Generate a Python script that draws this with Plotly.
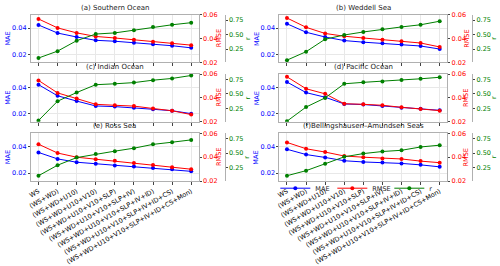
import plotly.graph_objects as go

categories = ["WS", "(WS+WD)", "(WS+WD+U10)", "(WS+WD+U10+V10)", "(WS+WD+U10+V10+SLP)",
              "(WS+WD+U10+V10+SLP+IV)", "(WS+WD+U10+V10+SLP+IV+ID)",
              "(WS+WD+U10+V10+SLP+IV+ID+CS)", "(WS+WD+U10+V10+SLP+IV+ID+CS+Mon)"]

titles = ["(a) Southern Ocean", "(b) Weddell Sea", "(c) Indian Ocean",
          "(d) Pacific Ocean", "(e) Ross Sea", "(f)Bellingshausen\u2013Amundsen Seas"]

mae_a = [0.0423, 0.0362, 0.0332, 0.0307, 0.0300, 0.0289, 0.0277, 0.0266, 0.0250]
rmse_a = [0.0565, 0.0490, 0.0448, 0.0418, 0.0405, 0.0390, 0.0373, 0.0360, 0.0345]
r_a = [0.095, 0.214, 0.394, 0.508, 0.528, 0.575, 0.631, 0.668, 0.704]

mae_b = [0.0432, 0.0368, 0.0332, 0.0305, 0.0293, 0.0284, 0.0275, 0.0264, 0.0241]
rmse_b = [0.0573, 0.0495, 0.0443, 0.0420, 0.0405, 0.0390, 0.0378, 0.0363, 0.0330]
r_b = [0.059, 0.204, 0.420, 0.492, 0.544, 0.590, 0.631, 0.668, 0.729]

mae_c = [0.0420, 0.0336, 0.0296, 0.0259, 0.0254, 0.0246, 0.0234, 0.0223, 0.0201]
rmse_c = [0.0547, 0.0442, 0.0394, 0.0346, 0.0338, 0.0331, 0.0311, 0.0292, 0.0260]
r_c = [0.040, 0.373, 0.522, 0.657, 0.673, 0.693, 0.735, 0.765, 0.816]

mae_d = [0.0440, 0.0360, 0.0325, 0.0274, 0.0270, 0.0259, 0.0246, 0.0237, 0.0226]
rmse_d = [0.0577, 0.0477, 0.0434, 0.0351, 0.0346, 0.0338, 0.0321, 0.0306, 0.0293]
r_d = [0.029, 0.272, 0.430, 0.673, 0.698, 0.713, 0.739, 0.759, 0.785]

mae_e = [0.0356, 0.0307, 0.0282, 0.0271, 0.0258, 0.0249, 0.0238, 0.0229, 0.0213]
rmse_e = [0.0509, 0.0435, 0.0400, 0.0382, 0.0370, 0.0352, 0.0334, 0.0316, 0.0299]
r_e = [0.111, 0.292, 0.423, 0.485, 0.534, 0.585, 0.651, 0.688, 0.728]

mae_f = [0.0380, 0.0340, 0.0318, 0.0293, 0.0284, 0.0280, 0.0273, 0.0262, 0.0247]
rmse_f = [0.0524, 0.0471, 0.0443, 0.0410, 0.0400, 0.0390, 0.0385, 0.0367, 0.0354]
r_f = [0.111, 0.198, 0.317, 0.436, 0.492, 0.528, 0.549, 0.606, 0.637]

panels = [(mae_a, rmse_a, r_a), (mae_b, rmse_b, r_b), (mae_c, rmse_c, r_c),
          (mae_d, rmse_d, r_d), (mae_e, rmse_e, r_e), (mae_f, rmse_f, r_f)]

W, H = 500, 266
FONT = "DejaVu Sans"
FS = 6.5
BLUE, RED, GREEN = "blue", "red", "green"
FRAME = "#b0b0b0"
GRID = "#e8e8e8"

col_px = [(28, 197), (278, 447)]
r_pos_px = [223, 472]
row_px = [(12, 65), (78, 131), (144, 197)]
# axis-title x positions (px): MAE, RMSE, r
title_x_px = [(5, 217, 246), (255, 466, 494)]

fig = go.Figure()
layout = {}
xs = list(range(len(categories)))


def yn(k):
    return "y" if k == 1 else f"y{k}"


for i, (mae, rmse, r) in enumerate(panels):
    row, col = divmod(i, 2)
    n = i + 1
    xa = "x" if n == 1 else f"x{n}"
    ya1, ya2, ya3 = 3 * i + 1, 3 * i + 2, 3 * i + 3
    show_leg = (i == 5)
    fig.add_trace(go.Scatter(x=xs, y=mae, mode="lines+markers", name="MAE",
                             line=dict(color=BLUE, width=1), marker=dict(size=4, color=BLUE),
                             xaxis=xa, yaxis=yn(ya1), showlegend=show_leg))
    fig.add_trace(go.Scatter(x=xs, y=rmse, mode="lines+markers", name="RMSE",
                             line=dict(color=RED, width=1), marker=dict(size=4, color=RED),
                             xaxis=xa, yaxis=yn(ya2), showlegend=show_leg))
    fig.add_trace(go.Scatter(x=xs, y=r, mode="lines+markers", name="r",
                             line=dict(color=GREEN, width=1), marker=dict(size=4, color=GREEN),
                             xaxis=xa, yaxis=yn(ya3), showlegend=show_leg))

    x0, x1 = col_px[col]
    t, b = row_px[row]
    xdom = [x0 / W, x1 / W]
    ydom = [1 - b / H, 1 - t / H]
    xkey = "xaxis" if n == 1 else f"xaxis{n}"
    layout[xkey] = dict(domain=xdom, anchor=yn(ya1), range=[-0.4, 8.4],
                        tickmode="array", tickvals=xs, ticktext=categories,
                        showticklabels=(row == 2), tickangle=-30,
                        ticks="outside", ticklen=3, tickcolor="#444",
                        showgrid=True, gridcolor=GRID, gridwidth=1,
                        showline=True, linecolor=FRAME, linewidth=1, mirror=True,
                        zeroline=False, tickfont=dict(family=FONT, size=FS, color="black"))
    k1 = "yaxis" if ya1 == 1 else f"yaxis{ya1}"
    layout[k1] = dict(domain=ydom, anchor=xa, range=[0.014, 0.050],
                      tickvals=[0.02, 0.04], ticktext=["0.02", "0.04"],
                      ticks="outside", ticklen=2, tickcolor="#444",
                      showgrid=True, gridcolor=GRID, zeroline=False,
                      showline=True, linecolor=FRAME, linewidth=1, mirror=True,
                      tickfont=dict(family=FONT, size=FS, color=BLUE))
    layout[f"yaxis{ya2}"] = dict(overlaying=yn(ya1), anchor=xa, side="right",
                                 range=[0.02, 0.06], tickvals=[0.02, 0.04, 0.06],
                                 ticktext=["0.02", "0.04", "0.06"],
                                 ticks="outside", ticklen=2, tickcolor="#444",
                                 showgrid=False, zeroline=False,
                                 tickfont=dict(family=FONT, size=FS, color=RED))
    layout[f"yaxis{ya3}"] = dict(overlaying=yn(ya1), anchor="free", side="right",
                                 position=r_pos_px[col] / W,
                                 range=[0.02, 0.84], tickvals=[0.25, 0.5, 0.75],
                                 ticktext=["0.25", "0.50", "0.75"],
                                 ticks="outside", ticklen=2, tickcolor="#444",
                                 showgrid=False, zeroline=False,
                                 showline=True, linecolor=FRAME, linewidth=1,
                                 tickfont=dict(family=FONT, size=FS, color=GREEN))

annotations = []
for i, title in enumerate(titles):
    row, col = divmod(i, 2)
    x0, x1 = col_px[col]
    t, b = row_px[row]
    annotations.append(dict(text=title, x=(x0 + x1) / 2 / W, y=1 - (t - 1) / H,
                            xref="paper", yref="paper", xanchor="center", yanchor="bottom",
                            showarrow=False, font=dict(family=FONT, size=FS + 0.5, color="#222")))
    yc = 1 - (t + b) / 2 / H
    for txt, xp, colr in zip(["MAE", "RMSE", "r"], title_x_px[col], [BLUE, RED, GREEN]):
        annotations.append(dict(text=txt, x=xp / W, y=yc, xref="paper", yref="paper",
                                xanchor="center", yanchor="middle", textangle=-90,
                                showarrow=False, font=dict(family=FONT, size=FS, color=colr)))

fig.update_layout(**layout)
fig.update_layout(width=W, height=H, margin=dict(l=0, r=0, t=0, b=0),
                  paper_bgcolor="white", plot_bgcolor="white",
                  annotations=annotations,
                  legend=dict(orientation="h", x=0.892, y=1 - 205 / H, xanchor="right", yanchor="middle",
                              bgcolor="rgba(255,255,255,0)", itemwidth=30,
                              entrywidth=12, entrywidthmode="pixels",
                              font=dict(family=FONT, size=FS, color="#222"),
                              tracegroupgap=0))

fig.write_html("out.html")
